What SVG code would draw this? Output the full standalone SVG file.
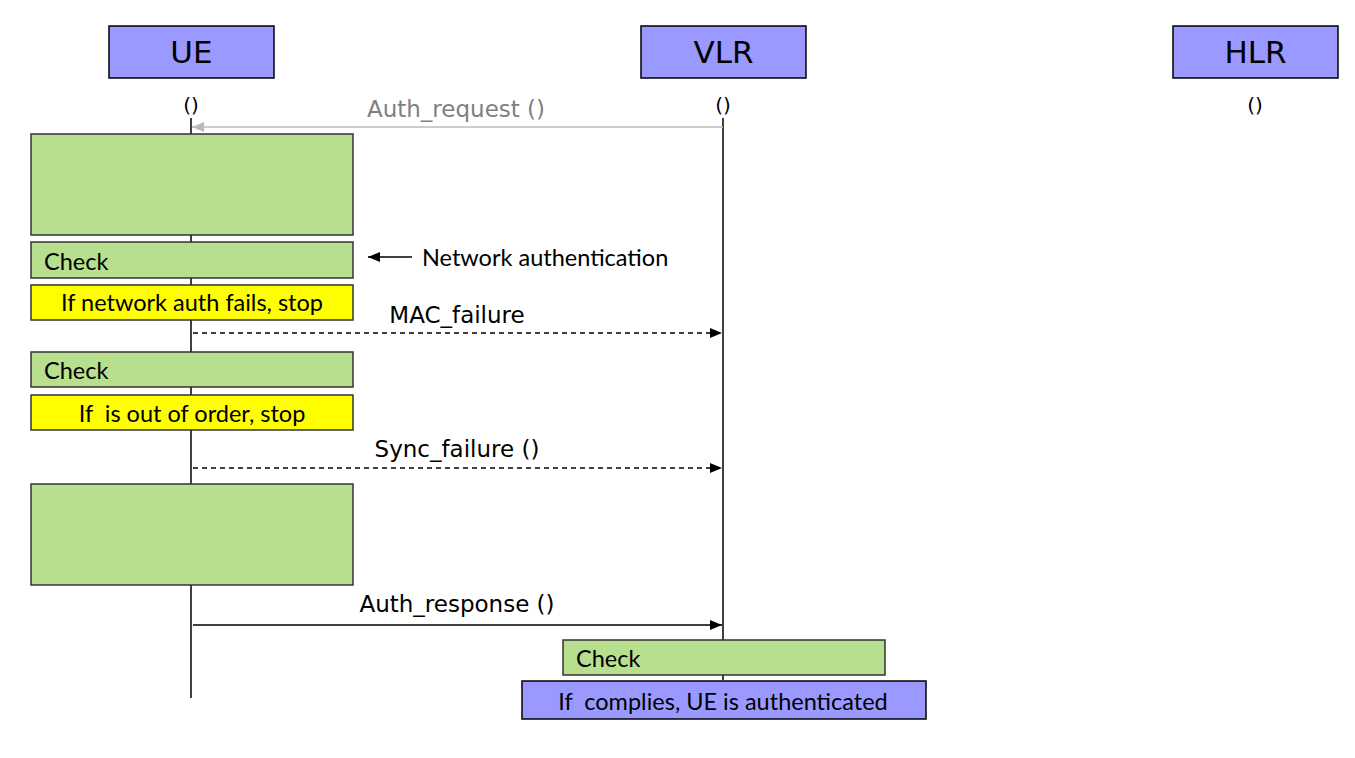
<svg xmlns="http://www.w3.org/2000/svg" width="1355" height="758" viewBox="0 0 1355 758">
<style>
.hdr{fill:#9999ff;stroke:#000;stroke-width:1.5}
.htxt{font-family:"DejaVu Sans",sans-serif;font-size:31px;fill:#000;text-anchor:middle}
.par{font-family:"DejaVu Sans",sans-serif;font-size:20px;fill:#000;text-anchor:middle}
.lbl{font-family:"DejaVu Sans",sans-serif;font-size:23px;fill:#000;text-anchor:middle}
.green{fill:#b8df8e;stroke:#333;stroke-width:1.5}
.yellow{fill:#ffff00;stroke:#333;stroke-width:1.5}
.blue{fill:#9999ff;stroke:#000;stroke-width:1.5}
.btxt{font-family:Lato,"Open Sans",sans-serif;font-size:23.5px;fill:#000;white-space:pre}
.life{stroke:#000;stroke-width:1.5}
</style>
<defs>
<marker id="ah" markerWidth="12" markerHeight="10" refX="12" refY="5" orient="auto" markerUnits="userSpaceOnUse"><path d="M0,0 L12,5 L0,10 z" fill="#000"/></marker>
<marker id="ahg" markerWidth="12" markerHeight="10" refX="12" refY="5" orient="auto" markerUnits="userSpaceOnUse"><path d="M0,0 L12,5 L0,10 z" fill="#bbb"/></marker>
</defs>
<g id="lifelines">
<line class="life" x1="191" y1="118" x2="191" y2="698"/>
<line class="life" x1="723" y1="118" x2="723" y2="680"/>
</g>
<g id="UE"><rect class="hdr" x="109" y="26" width="165" height="52"/><text class="htxt" x="191.5" y="63">UE</text><text class="par" x="191" y="112">()</text></g>
<g id="VLR"><rect class="hdr" x="641" y="26" width="165" height="52"/><text class="htxt" x="723.5" y="63">VLR</text><text class="par" x="723" y="112">()</text></g>
<g id="HLR"><rect class="hdr" x="1173" y="26" width="165" height="52"/><text class="htxt" x="1255.5" y="63">HLR</text><text class="par" x="1255" y="112">()</text></g>
<g id="box1"><rect class="green" x="31" y="134" width="322" height="101"/></g>
<g id="check1"><rect class="green" x="31" y="242" width="322" height="36"/><text class="btxt" x="44" y="270">Check</text></g>
<g id="stop1"><rect class="yellow" x="31" y="285" width="322" height="35"/><text class="btxt" x="192" y="311" text-anchor="middle">If network auth fails, stop</text></g>
<g id="check2"><rect class="green" x="31" y="352" width="322" height="35"/><text class="btxt" x="44" y="379">Check</text></g>
<g id="stop2"><rect class="yellow" x="31" y="395" width="322" height="35"/><text class="btxt" x="192" y="422" text-anchor="middle">If  is out of order, stop</text></g>
<g id="box3"><rect class="green" x="31" y="484" width="322" height="101"/></g>
<g id="check3"><rect class="green" x="563" y="640" width="322" height="35"/><text class="btxt" x="576" y="667">Check</text></g>
<g id="result"><rect class="blue" x="522" y="681" width="404" height="38"/><text class="btxt" x="723" y="710" text-anchor="middle">If  complies, UE is authenticated</text></g>
<g id="netauth"><text class="btxt" x="422" y="266">Network authentication</text></g>
<g id="connectors">
<line x1="723" y1="127" x2="192" y2="127" stroke="#bbb" stroke-width="1.5" marker-end="url(#ahg)"/>
<text class="lbl" x="456" y="117" style="fill:#808080">Auth_request ()</text>
<line x1="412" y1="257" x2="368" y2="257" stroke="#000" stroke-width="1.5" marker-end="url(#ah)"/>
<line x1="193" y1="333" x2="722" y2="333" stroke="#000" stroke-width="1.5" stroke-dasharray="5,4" marker-end="url(#ah)"/>
<text class="lbl" x="457" y="323">MAC_failure</text>
<line x1="193" y1="468" x2="722" y2="468" stroke="#000" stroke-width="1.5" stroke-dasharray="5,4" marker-end="url(#ah)"/>
<text class="lbl" x="457" y="457">Sync_failure ()</text>
<line x1="193" y1="625" x2="722" y2="625" stroke="#000" stroke-width="1.5" marker-end="url(#ah)"/>
<text class="lbl" x="457" y="612">Auth_response ()</text>
</g>
</svg>
